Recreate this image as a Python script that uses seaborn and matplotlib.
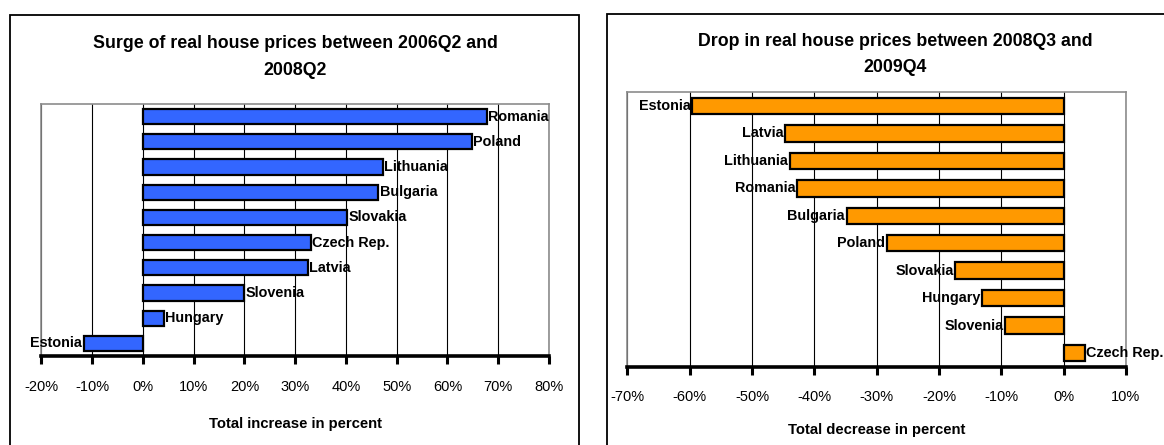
import matplotlib
matplotlib.use("Agg")
import matplotlib.pyplot as plt
from matplotlib.patches import Rectangle
from matplotlib.ticker import FuncFormatter, MultipleLocator
import seaborn as sns
import pandas as pd

# Surge of real house prices, 2006Q2-2008Q2 (percent)
surge_countries = ["Romania", "Poland", "Lithuania", "Bulgaria", "Slovakia",
                   "Czech Rep.", "Latvia", "Slovenia", "Hungary", "Estonia"]
surge_values = [67.8, 64.9, 47.2, 46.4, 40.3, 33.1, 32.5, 20.0, 4.2, -11.6]

# Drop in real house prices, 2008Q3-2009Q4 (percent)
drop_countries = ["Estonia", "Latvia", "Lithuania", "Romania", "Bulgaria",
                  "Poland", "Slovakia", "Hungary", "Slovenia", "Czech Rep."]
drop_values = [-59.6, -44.7, -43.9, -42.8, -34.8, -28.4, -17.4, -13.1, -9.4, 3.4]

surge_title = "Surge of real house prices between 2006Q2 and\n2008Q2"
drop_title = "Drop in real house prices between 2008Q3 and\n2009Q4"
surge_xlabel = "Total increase in percent"
drop_xlabel = "Total decrease in percent"

sns.set_style("white")
plt.rcParams["font.family"] = ["Liberation Sans Narrow", "Arial Narrow",
                               "Liberation Sans", "DejaVu Sans"]
plt.rcParams["text.color"] = "black"
plt.rcParams["axes.labelcolor"] = "black"
plt.rcParams["xtick.color"] = "black"

W, H = 1164, 445
fig = plt.figure(figsize=(W / 100, H / 100), dpi=100)
fig.patch.set_facecolor("white")


def fx(px):
    return px / W


def fy(py):
    return (H - py) / H


# outer frames around each chart
fig.patches.append(Rectangle((fx(10), fy(H + 5)), fx(579) - fx(10), fy(15) - fy(H + 5),
                             transform=fig.transFigure, fill=False,
                             edgecolor="black", linewidth=1.3))
fig.patches.append(Rectangle((fx(606.5), fy(H + 5)), fx(1175) - fx(606.5), fy(14) - fy(H + 5),
                             transform=fig.transFigure, fill=False,
                             edgecolor="black", linewidth=1.3))


def draw_panel(rect, countries, values, color, xlim, title, title_xy, xlabel, xlabel_y):
    ax = fig.add_axes(rect)
    df = pd.DataFrame({"country": countries, "value": values})
    sns.barplot(data=df, x="value", y="country", orient="h", color=color,
                width=0.6, edgecolor="black", linewidth=1.6, saturation=1,
                ax=ax, zorder=3)
    ax.set_xlim(*xlim)
    ax.set_ylim(len(countries) - 0.5, -0.5)
    ax.xaxis.set_major_locator(MultipleLocator(10))
    ax.xaxis.set_major_formatter(FuncFormatter(lambda v, p: f"{v:.0f}%"))
    ax.set_axisbelow(True)
    ax.grid(axis="x", color="black", linewidth=0.8)
    ax.grid(axis="y", visible=False)
    ax.set_yticks([])
    ax.set_ylabel("")
    for side in ("left", "top", "right"):
        ax.spines[side].set_color("#8c8c8c")
        ax.spines[side].set_linewidth(1.2)
    ax.spines["bottom"].set_color("black")
    ax.spines["bottom"].set_linewidth(2.6)
    ax.tick_params(axis="x", direction="out", length=6, width=2.2, color="black",
                   bottom=True, pad=11, labelsize=10.5, labelcolor="black")

    for i, (name, v) in enumerate(zip(countries, values)):
        if v >= 0:
            ax.annotate(name, (v, i), xytext=(0.8, 0), textcoords="offset points",
                        ha="left", va="center", fontsize=10.4, fontweight="bold",
                        color="black", annotation_clip=False, clip_on=False, zorder=5)
        else:
            ax.annotate(name, (v, i), xytext=(-1.2, 0), textcoords="offset points",
                        ha="right", va="center", fontsize=10.4, fontweight="bold",
                        color="black", annotation_clip=False, clip_on=False, zorder=5)

    ax.set_xlabel(xlabel, fontsize=10.7, fontweight="bold")
    ax.xaxis.set_label_coords(0.5, xlabel_y)
    ax.xaxis.label.set_va("center")

    fig.text(fx(title_xy[0]), fy(title_xy[1]), title, ha="center", va="center",
             fontsize=12.8, fontweight="bold", linespacing=1.75, color="black")
    return ax


draw_panel([fx(41.4), fy(356), fx(549) - fx(41.4), fy(104) - fy(356)],
           surge_countries, surge_values, "#3366ff", (-20, 80),
           surge_title, (295, 57), surge_xlabel, (356 - 424) / 252)

draw_panel([fx(627.3), fy(366.7), fx(1126) - fx(627.3), fy(92.3) - fy(366.7)],
           drop_countries, drop_values, "#ff9900", (-70, 10),
           drop_title, (895, 54.5), drop_xlabel, (366.7 - 430) / 274.4)

fig.savefig("out.png", dpi=100)
